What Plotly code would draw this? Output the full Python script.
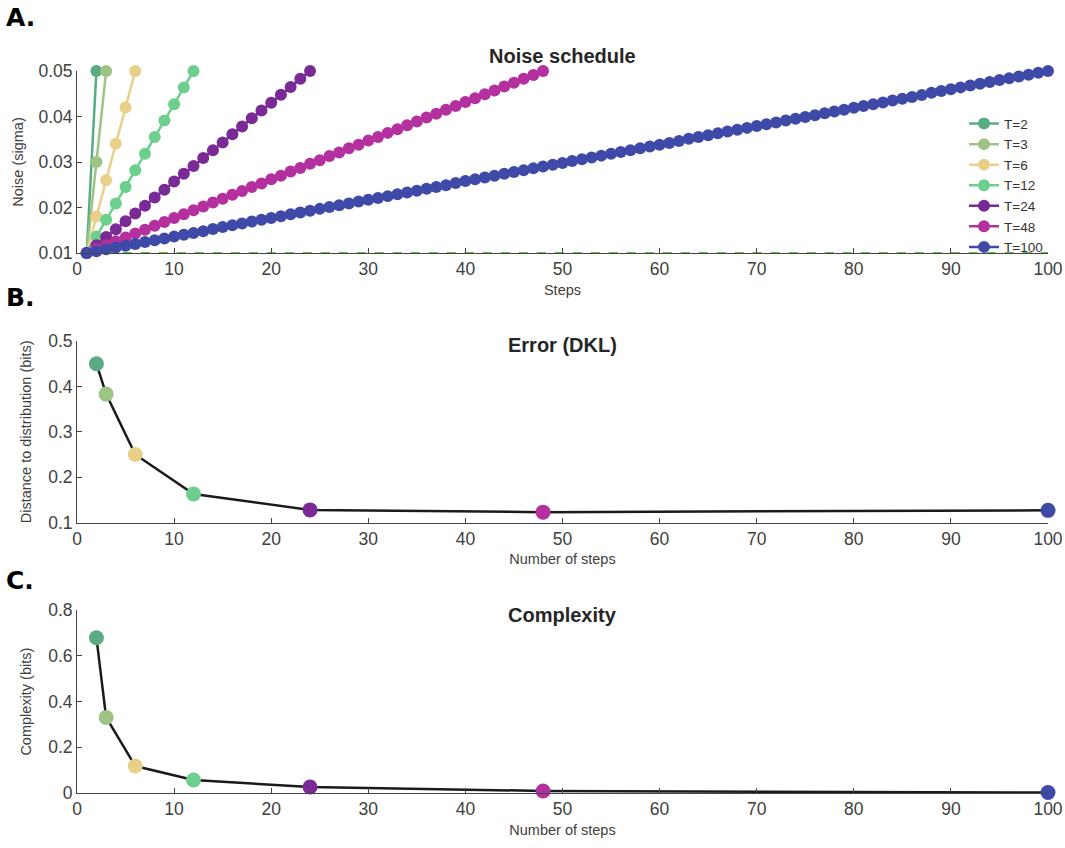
import plotly.graph_objects as go

# ---------------- data ----------------
schedule_T = [2, 3, 6, 12, 24, 48, 100]
series_names = ["T=2", "T=3", "T=6", "T=12", "T=24", "T=48", "T=100"]
colors = ["#5aaa84", "#9dc485", "#e8d088", "#6ccf8e", "#7a2a96", "#b5309f", "#3f4aa8"]

noise_T2 = [0.01, 0.05]
noise_T3 = [0.01, 0.03, 0.05]
noise_T6 = [0.010, 0.018, 0.026, 0.034, 0.042, 0.050]
noise_T12 = [0.0100, 0.0136, 0.0173, 0.0209, 0.0245, 0.0282, 0.0318, 0.0355,
             0.0391, 0.0427, 0.0464, 0.0500]
noise_T24 = [0.0100, 0.0117, 0.0135, 0.0152, 0.0170, 0.0187, 0.0204, 0.0222,
             0.0239, 0.0257, 0.0274, 0.0291, 0.0309, 0.0326, 0.0343, 0.0361,
             0.0378, 0.0396, 0.0413, 0.0430, 0.0448, 0.0465, 0.0483, 0.0500]
noise_T48 = [0.0100, 0.0109, 0.0117, 0.0126, 0.0134, 0.0143, 0.0151, 0.0160, 0.0168, 0.0177,
             0.0185, 0.0194, 0.0202, 0.0211, 0.0219, 0.0228, 0.0236, 0.0245, 0.0253, 0.0262,
             0.0270, 0.0279, 0.0287, 0.0296, 0.0304, 0.0313, 0.0321, 0.0330, 0.0338, 0.0347,
             0.0355, 0.0364, 0.0372, 0.0381, 0.0389, 0.0398, 0.0406, 0.0415, 0.0423, 0.0432,
             0.0440, 0.0449, 0.0457, 0.0466, 0.0474, 0.0483, 0.0491, 0.0500]
noise_T100 = [0.0100, 0.0104, 0.0108, 0.0112, 0.0116, 0.0120, 0.0124, 0.0128, 0.0132, 0.0136,
              0.0140, 0.0144, 0.0148, 0.0153, 0.0157, 0.0161, 0.0165, 0.0169, 0.0173, 0.0177,
              0.0181, 0.0185, 0.0189, 0.0193, 0.0197, 0.0201, 0.0205, 0.0209, 0.0213, 0.0217,
              0.0221, 0.0225, 0.0229, 0.0233, 0.0237, 0.0241, 0.0245, 0.0249, 0.0254, 0.0258,
              0.0262, 0.0266, 0.0270, 0.0274, 0.0278, 0.0282, 0.0286, 0.0290, 0.0294, 0.0298,
              0.0302, 0.0306, 0.0310, 0.0314, 0.0318, 0.0322, 0.0326, 0.0330, 0.0334, 0.0338,
              0.0342, 0.0346, 0.0351, 0.0355, 0.0359, 0.0363, 0.0367, 0.0371, 0.0375, 0.0379,
              0.0383, 0.0387, 0.0391, 0.0395, 0.0399, 0.0403, 0.0407, 0.0411, 0.0415, 0.0419,
              0.0423, 0.0427, 0.0431, 0.0435, 0.0439, 0.0443, 0.0447, 0.0452, 0.0456, 0.0460,
              0.0464, 0.0468, 0.0472, 0.0476, 0.0480, 0.0484, 0.0488, 0.0492, 0.0496, 0.0500]
noise_series = [noise_T2, noise_T3, noise_T6, noise_T12, noise_T24, noise_T48, noise_T100]

baseline_x = [1, 100]
baseline_y = [0.01, 0.01]

error_dkl = [0.450, 0.383, 0.250, 0.163, 0.128, 0.123, 0.127]
complexity = [0.680, 0.331, 0.118, 0.057, 0.026, 0.009, 0.002]

x_ticks = [0, 10, 20, 30, 40, 50, 60, 70, 80, 90, 100]

# ---------------- figure ----------------
W, H = 1065, 848
# target pixel positions of the plot area
left_px, right_px, top_px, bottom_px = 77, 1048, 70.7, 792.7
ml = left_px
mr = W - right_px
mt = top_px
mb = H - bottom_px
ph = H - mt - mb
pw = W - ml - mr

def py(px):
    return (H - mb - px) / ph

def pxx(px):
    return (px - ml) / pw

FONT = "Liberation Sans, Arial, Helvetica, sans-serif"
AX = "#454545"
TXT = "#404040"

fig = go.Figure()

fig.add_trace(go.Scatter(x=baseline_x, y=baseline_y, mode="lines",
                         line=dict(color="#5cc13a", width=2, dash="dash"),
                         showlegend=False, hoverinfo="skip", xaxis="x", yaxis="y",
                         cliponaxis=False))

for name, col, ys in zip(series_names, colors, noise_series):
    fig.add_trace(go.Scatter(x=list(range(1, len(ys) + 1)), y=ys, mode="lines+markers",
                             name=name, line=dict(color=col, width=2.5),
                             marker=dict(color=col, size=12),
                             xaxis="x", yaxis="y", cliponaxis=False))

for yvals, ax in [(error_dkl, ("x2", "y2")), (complexity, ("x3", "y3"))]:
    fig.add_trace(go.Scatter(x=schedule_T, y=yvals, mode="lines",
                             line=dict(color="#1a1a1a", width=2.5),
                             showlegend=False, xaxis=ax[0], yaxis=ax[1], cliponaxis=False))
    for T, v, col in zip(schedule_T, yvals, colors):
        fig.add_trace(go.Scatter(x=[T], y=[v], mode="markers",
                                 marker=dict(color=col, size=15),
                                 showlegend=False, xaxis=ax[0], yaxis=ax[1], cliponaxis=False))

axis_common = dict(showline=True, linecolor=AX, linewidth=1, ticks="inside", ticklen=5,
                   tickcolor=AX, tickfont=dict(family=FONT, size=17.5, color=TXT),
                   showgrid=False, zeroline=False, mirror=False, automargin=False)

xcommon = dict(axis_common, range=[0, 100], tickvals=x_ticks)
tfont = dict(family=FONT, size=14.5, color=TXT)

fig.update_layout(
    width=W, height=H,
    margin=dict(l=ml, r=mr, t=mt, b=mb),
    plot_bgcolor="white", paper_bgcolor="white",
    font=dict(family=FONT, color=TXT),
    xaxis=dict(xcommon, domain=[0, 1], anchor="y",
               title=dict(text="Steps", font=tfont, standoff=6)),
    yaxis=dict(axis_common, domain=[py(252.7), py(70.7)], anchor="x", range=[0.01, 0.05],
               tickvals=[0.01, 0.02, 0.03, 0.04, 0.05], tickformat=".2f",
               title=dict(text="Noise (sigma)", font=tfont, standoff=11)),
    xaxis2=dict(xcommon, domain=[0, 1], anchor="y2",
                title=dict(text="Number of steps", font=tfont, standoff=6)),
    yaxis2=dict(axis_common, domain=[py(522.3), py(340.7)], anchor="x2", range=[0.1, 0.5],
                tickvals=[0.1, 0.2, 0.3, 0.4, 0.5],
                title=dict(text="Distance to distribution (bits)", font=tfont, standoff=13)),
    xaxis3=dict(xcommon, domain=[0, 1], anchor="y3",
                title=dict(text="Number of steps", font=tfont, standoff=6)),
    yaxis3=dict(axis_common, domain=[py(792.7), py(610)], anchor="x3", range=[0, 0.8],
                tickvals=[0, 0.2, 0.4, 0.6, 0.8],
                title=dict(text="Complexity (bits)", font=tfont, standoff=13)),
    legend=dict(x=1.0, xanchor="right", y=py(108), yanchor="top",
                font=dict(family=FONT, size=13.5, color="#333333"),
                bgcolor="rgba(0,0,0,0)", itemwidth=30, tracegroupgap=0),
    showlegend=True,
)

annotations = [
    dict(text="<b>Noise schedule</b>", x=0.5, y=py(56), xref="paper", yref="paper",
         showarrow=False, font=dict(family=FONT, size=20, color="#262626"), yanchor="middle"),
    dict(text="<b>Error (DKL)</b>", x=0.5, y=py(345), xref="paper", yref="paper",
         showarrow=False, font=dict(family=FONT, size=20, color="#262626"), yanchor="middle"),
    dict(text="<b>Complexity</b>", x=0.5, y=py(615), xref="paper", yref="paper",
         showarrow=False, font=dict(family=FONT, size=20, color="#262626"), yanchor="middle"),
]
for lbl, ypx in [("A.", 17), ("B.", 297), ("C.", 580)]:
    annotations.append(dict(text="<b>%s</b>" % lbl, x=pxx(4), y=py(ypx),
                            xref="paper", yref="paper", xanchor="left",
                            yanchor="middle", showarrow=False,
                            font=dict(family="DejaVu Sans", size=25, color="black")))
fig.update_layout(annotations=annotations)

fig.write_html("out.html", config={"displayModeBar": False},
               post_script="document.body.style.margin='0';document.body.style.overflow='hidden';")
